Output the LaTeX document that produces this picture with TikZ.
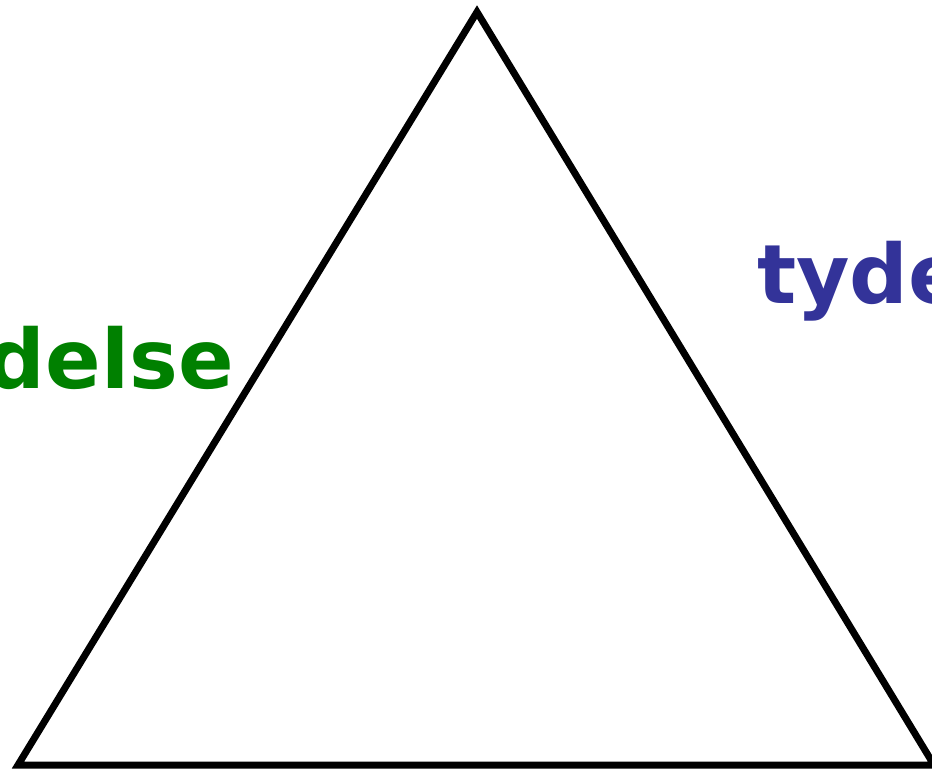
\documentclass[tikz,border=0pt]{standalone}
\usepackage{fontspec}
\setmainfont{DejaVu Sans}
\definecolor{wordgreen}{RGB}{0,128,0}
\definecolor{wordblue}{RGB}{51,51,153}
\tikzset{
  word/.style={font=\fontsize{82}{82}\selectfont\bfseries, inner sep=0pt},
}
\begin{document}
\begin{tikzpicture}[x=1pt, y=-1pt]
  % frame of the picture
  \useasboundingbox (0,0) rectangle (932,770);
  \clip (0,0) rectangle (932,770);
  % the triangle
  \coordinate (top) at (477,12);
  \coordinate (left) at (18,765);
  \coordinate (right) at (934,765);
  \draw[line width=7pt, line join=miter] (top) -- (left) -- (right) -- cycle;
  % words
  \node[word, text=wordgreen, anchor=base east] (leftword) at (234,388) {delse};
  \node[word, text=wordblue, anchor=base west] (rightword) at (757,303) {tyde};
\end{tikzpicture}
\end{document}
